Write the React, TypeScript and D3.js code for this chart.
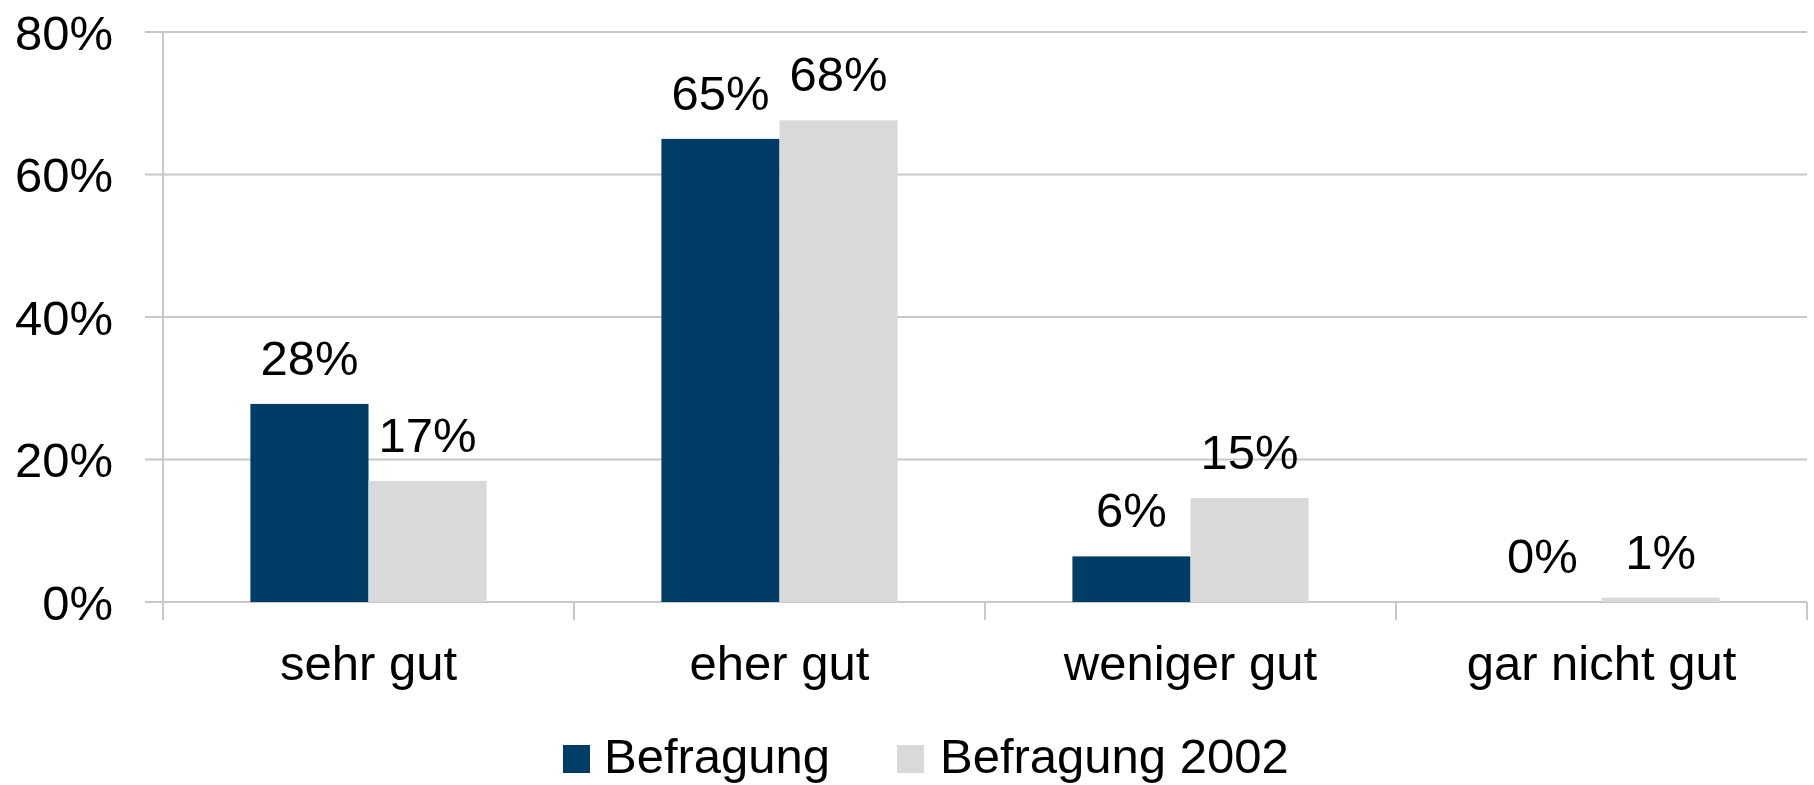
import React from 'react';
import * as d3 from 'd3';

const categories = ['sehr gut', 'eher gut', 'weniger gut', 'gar nicht gut'];
const seriesNames = ['Befragung', 'Befragung 2002'];
const befragung = [27.8, 65.0, 6.4, 0];
const befragung2002 = [17.0, 67.6, 14.6, 0.6];
const yTicks = [0, 20, 40, 60, 80];

const colors = ['#003d66', '#d9d9d9'];
const gridColor = '#c8c8c8';
const font = '"Liberation Sans", Arial, sans-serif';

export default function App() {
    const width = 1814;
    const height = 785;
    const left = 163;
    const right = 1807;
    const top = 32;
    const bottom = 602;

    const x0 = d3.scaleBand<string>().domain(categories).range([left, right]).padding(0);
    const x1 = d3.scaleBand<string>().domain(seriesNames).range([0, x0.bandwidth()])
        .paddingInner(0).paddingOuter(0.74);
    const y = d3.scaleLinear().domain([0, 80]).range([bottom, top]);

    const rows = categories.map((c, i) => ({ cat: c, values: [befragung[i], befragung2002[i]] }));

    const legendItems = [
        { name: seriesNames[0], sq: 563, tx: 604 },
        { name: seriesNames[1], sq: 897, tx: 940 },
    ];

    return (
        <svg width={width} height={height} style={{ position: 'absolute', left: 0, top: 0, background: '#fff' }}
            fontFamily={font}>
            {/* gridlines + y labels */}
            {yTicks.map(t => (
                <g key={t}>
                    <line x1={145} x2={right} y1={y(t)} y2={y(t)} stroke={gridColor} strokeWidth={2} />
                    <text x={113} y={y(t)} dy="0.36em" textAnchor="end" fontSize={49} fill="#000">{t}%</text>
                </g>
            ))}
            <line x1={left} x2={left} y1={top} y2={620} stroke={gridColor} strokeWidth={2} />
            {categories.map(c => (
                <line key={c} x1={(x0(c) as number) + x0.bandwidth()} x2={(x0(c) as number) + x0.bandwidth()}
                    y1={bottom} y2={620} stroke={gridColor} strokeWidth={2} />
            ))}

            {/* bars */}
            {rows.map(r => (
                <g key={r.cat} transform={`translate(${x0(r.cat)},0)`}>
                    {r.values.map((v, j) => (
                        <rect key={j} x={x1(seriesNames[j])} width={x1.bandwidth()}
                            y={y(v)} height={bottom - y(v)} fill={colors[j]} />
                    ))}
                    {r.values.map((v, j) => (
                        <text key={'l' + j} x={(x1(seriesNames[j]) as number) + x1.bandwidth() / 2}
                            y={y(v) - 29} textAnchor="middle" fontSize={49} fill="#000">
                            {d3.format('.0f')(v)}%
                        </text>
                    ))}
                    <text x={x0.bandwidth() / 2} y={680} textAnchor="middle" fontSize={49} fill="#000">{r.cat}</text>
                </g>
            ))}

            {/* legend */}
            {legendItems.map((d, i) => (
                <g key={d.name}>
                    <rect x={d.sq} y={745} width={27} height={28} fill={colors[i]} />
                    <text x={d.tx} y={773} fontSize={49} fill="#000">{d.name}</text>
                </g>
            ))}
        </svg>
    );
}
